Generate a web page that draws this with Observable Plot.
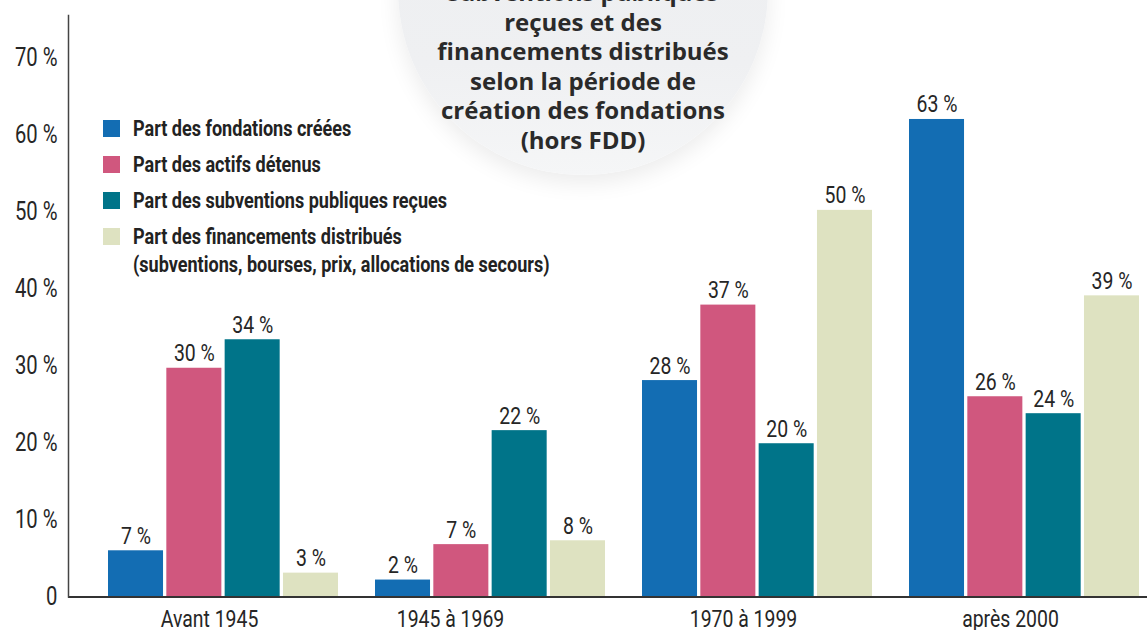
<!DOCTYPE html>
<html lang="fr">
<head>
<meta charset="utf-8">
<script src="https://cdn.jsdelivr.net/npm/d3@7"></script>
<script src="https://cdn.jsdelivr.net/npm/@observablehq/plot@0.6"></script>
<style>
  html, body { margin: 0; padding: 0; background: #fff; overflow: hidden; }
  #wrap { position: relative; width: 1147px; height: 630px; overflow: hidden; }
  #chart svg { position: absolute; left: 0; top: 0; }
  #legend { position: absolute; left: 103px; top: 115px; color: #222; font-family: Roboto, sans-serif; font-size: 22px; font-weight: bold; }
  #legend .row { position: relative; padding-left: 30px; height: 36px; line-height: 28px; white-space: nowrap; }
  #legend .txt { display: inline-block; transform: scaleX(0.82); transform-origin: 0 50%; }
  #legend .sw { position: absolute; left: 0; top: 5px; width: 17px; height: 17px; }
  #circle { position: absolute; left: 398px; top: -195px; width: 370px; height: 370px; border-radius: 50%;
    background: linear-gradient(180deg, #eceef0 0%, #eff0f2 70%, #f5f6f7 100%);
    box-shadow: 0 8px 22px rgba(0,0,0,0.08); }
  #title { position: absolute; left: 398px; width: 370px; top: -23px; text-align: center;
    font-family: "Open Sans", Lato, sans-serif; font-weight: bold; font-size: 24px; line-height: 29.5px; color: #2a2a2a; }
</style>
</head>
<body>
<div id="wrap">
  <div id="chart"></div>
  <div id="circle"></div>
  <div id="title"></div>
  <div id="legend"></div>
</div>
<script>
// ---- data ----
const groups = ["Avant 1945", "1945 à 1969", "1970 à 1999", "après 2000"];
const series = [
  "Part des fondations créées",
  "Part des actifs détenus",
  "Part des subventions publiques reçues",
  "Part des financements distribués"
];
const legendSecondLine = "(subventions, bourses, prix, allocations de secours)";
const colors = ["#136db3", "#d0577e", "#007489", "#dee2c1"];
// bar heights (%) by series, in group order
const fondations = [6.0, 2.2, 28.1, 62.0];
const actifs = [29.7, 6.8, 37.9, 26.0];
const subventions = [33.4, 21.6, 19.9, 23.8];
const financements = [3.1, 7.3, 50.2, 39.1];
// printed labels
const fondationsLabels = ["7 %", "2 %", "28 %", "63 %"];
const actifsLabels = ["30 %", "7 %", "37 %", "26 %"];
const subventionsLabels = ["34 %", "22 %", "20 %", "24 %"];
const financementsLabels = ["3 %", "8 %", "50 %", "39 %"];
const yTicks = [0, 10, 20, 30, 40, 50, 60, 70];
const titleLines = ["subventions publiques", "reçues et des", "financements distribués", "selon la période de", "création des fondations", "(hors FDD)"];

const valuesBySeries = [fondations, actifs, subventions, financements];
const labelsBySeries = [fondationsLabels, actifsLabels, subventionsLabels, financementsLabels];
const rows = [];
series.forEach((s, i) => groups.forEach((g, j) => rows.push({series: s, si: i, group: g, value: valuesBySeries[i][j], label: labelsBySeries[i][j]})));

// ---- layout ----
const W = 1147, H = 630;
const FONT = 'Roboto, "Liberation Sans", sans-serif';
const SQUEEZE = 0.81; // condensed look
const xOpts = {type: "band", domain: groups, range: [68, W], paddingInner: 0.139, paddingOuter: 0.09, align: 0.833};
const bw = Plot.scale({x: xOpts}).bandwidth;
const gap = 3.4;
const barW = (bw - gap * (series.length - 1)) / series.length;

const marks = [];
series.forEach((s, i) => {
  const data = rows.filter(d => d.si === i);
  const left = i * (barW + gap);
  const right = (series.length - 1 - i) * (barW + gap);
  marks.push(Plot.barY(data, {x: "group", y: "value", fill: colors[i], insetLeft: left, insetRight: right}));
  marks.push(Plot.text(data, {x: "group", y: "value", text: "label", dx: -bw / 2 + left + barW / 2, dy: -7,
    lineAnchor: "bottom", fill: "#262626", fontSize: 24}));
});

const plot = Plot.plot({
  width: W, height: H,
  marginTop: 15, marginBottom: 33.5, marginLeft: 68, marginRight: 0,
  style: {background: "transparent", fontFamily: FONT, fontSize: "24px", color: "#262626"},
  x: {...xOpts, label: null},
  y: {domain: [0, 75.5], label: null},
  marks: [
    ...marks,
    Plot.ruleY([0], {stroke: "#333", strokeWidth: 2}),
    Plot.frame({anchor: "left", stroke: "#444", strokeWidth: 1.5}),
    Plot.axisY(yTicks, {tickSize: 0, tickPadding: 11, tickFormat: d => d === 0 ? "0" : d + " %", fontSize: 25, label: null}),
    Plot.axisX(groups.filter((g, j) => j !== 1), {tickSize: 0, tickPadding: 13, dx: -14, fontSize: 24, label: null}),
    Plot.axisX([groups[1]], {tickSize: 0, tickPadding: 13, dx: -40, fontSize: 24, label: null})
  ]
});
document.getElementById("chart").appendChild(plot);

// horizontally squeeze all svg texts around their anchor to mimic a condensed face
plot.querySelectorAll("text").forEach(t => {
  const x = +(t.getAttribute("x") || 0);
  const tr = t.getAttribute("transform") || "";
  t.setAttribute("transform", `${tr} translate(${x},0) scale(${SQUEEZE},1) translate(${-x},0)`.trim());
});

// legend
const legend = document.getElementById("legend");
series.forEach((s, i) => {
  const row = document.createElement("div");
  row.className = "row";
  const sw = document.createElement("span");
  sw.className = "sw";
  sw.style.background = colors[i];
  row.appendChild(sw);
  const txt = document.createElement("span");
  txt.className = "txt";
  txt.textContent = s;
  if (i === series.length - 1) {
    txt.appendChild(document.createElement("br"));
    txt.appendChild(document.createTextNode(legendSecondLine));
  }
  row.appendChild(txt);
  legend.appendChild(row);
});

// title
document.getElementById("title").innerHTML = titleLines.join("<br>");
</script>
</body>
</html>
